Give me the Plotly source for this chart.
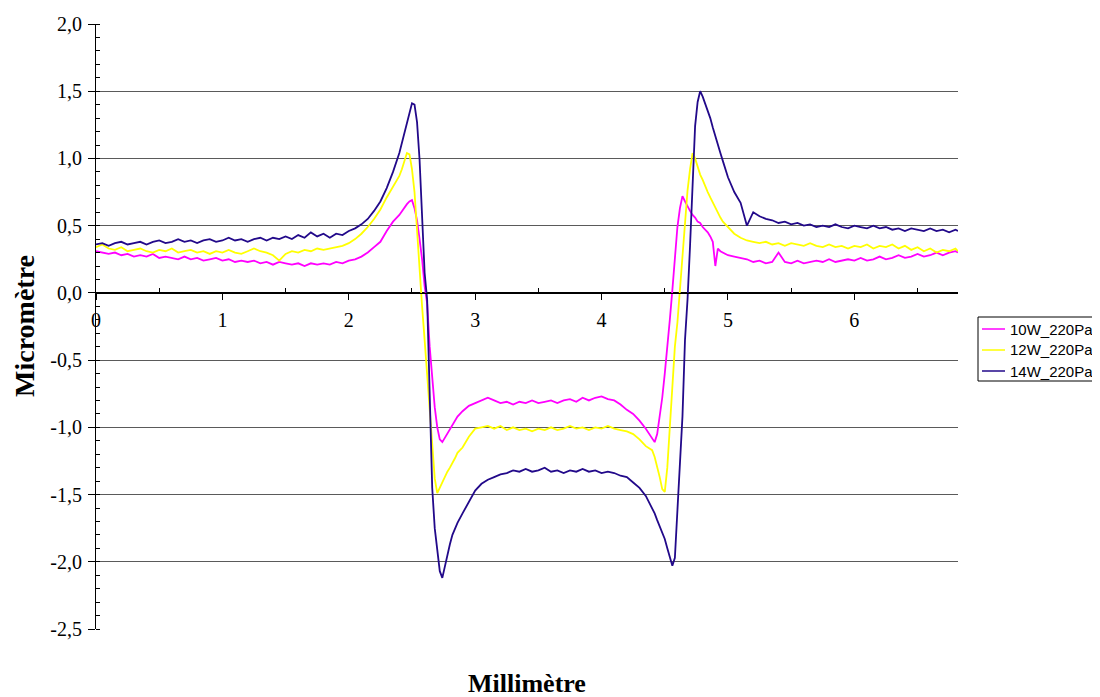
import numpy as np
import plotly.graph_objects as go

# sample positions (mm)
x_mm = np.round(np.concatenate([
    np.arange(0.00, 2.351, 0.05),
    np.arange(2.40, 2.861, 0.02),
    np.arange(2.90, 4.401, 0.05),
    np.arange(4.42, 4.961, 0.02),
    np.arange(5.00, 6.801, 0.05),
    [6.82],
]), 2)

series_names = ["10W_220Pa", "12W_220Pa", "14W_220Pa"]
series_colors = ["#FF00FF", "#FFFF00", "#22098A"]

y_10w = [
    # 0.00 - 2.35
    0.31, 0.30, 0.29, 0.30, 0.28, 0.29, 0.27, 0.28, 0.27, 0.29,
    0.26, 0.27, 0.26, 0.25, 0.27, 0.25, 0.26, 0.24, 0.25, 0.26,
    0.24, 0.25, 0.23, 0.24, 0.23, 0.24, 0.22, 0.23, 0.21, 0.23,
    0.22, 0.21, 0.22, 0.20, 0.22, 0.21, 0.22, 0.21, 0.23, 0.22,
    0.24, 0.25, 0.27, 0.30, 0.34, 0.38, 0.46, 0.53,
    # 2.40 - 2.86
    0.58, 0.61, 0.64, 0.66, 0.68, 0.69, 0.63, 0.54, 0.40, 0.25,
    0.05, -0.08, -0.40, -0.65, -0.85, -1.00, -1.09, -1.11, -1.08, -1.05,
    -1.02, -0.98, -0.95, -0.92,
    # 2.90 - 4.40
    -0.88, -0.84, -0.82, -0.80, -0.78, -0.80, -0.82, -0.81, -0.83, -0.81,
    -0.82, -0.80, -0.82, -0.81, -0.80, -0.82, -0.80, -0.79, -0.81, -0.78,
    -0.80, -0.78, -0.77, -0.79, -0.80, -0.83, -0.87, -0.90, -0.95, -1.01,
    -1.08,
    # 4.42 - 4.96
    -1.11, -1.05, -0.92, -0.78, -0.60, -0.42, -0.20, 0.02, 0.25, 0.49,
    0.63, 0.72, 0.68, 0.64, 0.61, 0.58, 0.56, 0.53, 0.52, 0.49,
    0.47, 0.45, 0.42, 0.38, 0.20, 0.33, 0.31, 0.30,
    # 5.00 - 6.82
    0.28, 0.27, 0.26, 0.25, 0.23, 0.24, 0.22, 0.23, 0.30, 0.23,
    0.22, 0.24, 0.22, 0.23, 0.24, 0.23, 0.25, 0.23, 0.24, 0.25,
    0.24, 0.26, 0.24, 0.25, 0.27, 0.25, 0.26, 0.28, 0.26, 0.27,
    0.29, 0.27, 0.28, 0.30, 0.28, 0.30, 0.31, 0.30,
]

y_12w = [
    # 0.00 - 2.35
    0.34, 0.36, 0.33, 0.32, 0.34, 0.31, 0.32, 0.33, 0.31, 0.30,
    0.32, 0.31, 0.33, 0.30, 0.31, 0.32, 0.30, 0.31, 0.29, 0.31,
    0.30, 0.32, 0.30, 0.29, 0.31, 0.33, 0.31, 0.30, 0.28, 0.24,
    0.29, 0.31, 0.30, 0.32, 0.31, 0.33, 0.32, 0.33, 0.34, 0.35,
    0.37, 0.40, 0.44, 0.49, 0.55, 0.62, 0.71, 0.79,
    # 2.40 - 2.86
    0.87, 0.92, 0.98, 1.04, 1.03, 0.92, 0.75, 0.45, 0.12, -0.10,
    -0.35, -0.62, -0.92, -1.18, -1.38, -1.49, -1.45, -1.40, -1.36, -1.33,
    -1.30, -1.27, -1.23, -1.19,
    # 2.90 - 4.40
    -1.15, -1.07, -1.01, -1.00, -0.99, -1.01, -0.99, -1.02, -1.00, -1.02,
    -1.01, -1.03, -1.01, -1.02, -1.00, -1.02, -1.01, -0.99, -1.01, -1.00,
    -1.02, -1.00, -1.01, -0.99, -1.01, -1.02, -1.03, -1.05, -1.09, -1.14,
    -1.17,
    # 4.42 - 4.96
    -1.22, -1.29, -1.37, -1.46, -1.48, -1.30, -1.00, -0.65, -0.40, -0.22,
    0.02, 0.30, 0.55, 0.76, 0.92, 1.04, 1.00, 0.94, 0.88, 0.84,
    0.79, 0.75, 0.71, 0.67, 0.63, 0.59, 0.56, 0.53,
    # 5.00 - 6.82
    0.49, 0.44, 0.41, 0.39, 0.38, 0.37, 0.38, 0.36, 0.37, 0.35,
    0.37, 0.36, 0.35, 0.37, 0.35, 0.34, 0.36, 0.34, 0.35, 0.33,
    0.35, 0.34, 0.36, 0.33, 0.35, 0.34, 0.36, 0.33, 0.35, 0.32,
    0.34, 0.31, 0.33, 0.30, 0.32, 0.31, 0.33, 0.31,
]

y_14w = [
    # 0.00 - 2.35
    0.36, 0.37, 0.35, 0.37, 0.38, 0.36, 0.37, 0.38, 0.36, 0.38,
    0.39, 0.37, 0.38, 0.40, 0.38, 0.39, 0.37, 0.39, 0.40, 0.38,
    0.39, 0.41, 0.39, 0.40, 0.38, 0.40, 0.41, 0.39, 0.41, 0.40,
    0.42, 0.40, 0.43, 0.41, 0.45, 0.42, 0.44, 0.41, 0.44, 0.43,
    0.46, 0.48, 0.51, 0.55, 0.61, 0.68, 0.78, 0.90,
    # 2.40 - 2.86
    1.04, 1.11, 1.19, 1.27, 1.34, 1.41, 1.40, 1.27, 0.99, 0.62,
    0.15, -0.05, -0.75, -1.45, -1.75, -1.93, -2.07, -2.12, -2.03, -1.96,
    -1.87, -1.80, -1.75, -1.71,
    # 2.90 - 4.40
    -1.64, -1.55, -1.47, -1.42, -1.39, -1.37, -1.35, -1.34, -1.32, -1.33,
    -1.31, -1.33, -1.32, -1.30, -1.33, -1.32, -1.34, -1.32, -1.33, -1.31,
    -1.33, -1.32, -1.34, -1.33, -1.34, -1.36, -1.37, -1.41, -1.45, -1.51,
    -1.60,
    # 4.42 - 4.96
    -1.64, -1.69, -1.74, -1.78, -1.83, -1.90, -1.96, -2.03, -1.97, -1.65,
    -1.30, -0.92, -0.35, -0.05, 0.35, 0.80, 1.24, 1.42, 1.50, 1.46,
    1.41, 1.36, 1.30, 1.23, 1.16, 1.10, 1.04, 0.98,
    # 5.00 - 6.82
    0.86, 0.75, 0.67, 0.50, 0.60, 0.57, 0.55, 0.54, 0.52, 0.53,
    0.51, 0.52, 0.50, 0.51, 0.49, 0.50, 0.49, 0.51, 0.49, 0.48,
    0.50, 0.49, 0.48, 0.50, 0.48, 0.49, 0.47, 0.48, 0.46, 0.48,
    0.47, 0.46, 0.48, 0.46, 0.47, 0.45, 0.47, 0.46,
]

y_ticks = [2.0, 1.5, 1.0, 0.5, 0.0, -0.5, -1.0, -1.5, -2.0, -2.5]
y_tick_labels = ["2,0", "1,5", "1,0", "0,5", "0,0", "-0,5", "-1,0", "-1,5", "-2,0", "-2,5"]
x_ticks = [0, 1, 2, 3, 4, 5, 6]
x_minor_ticks = [0.5, 1.5, 2.5, 3.5, 4.5, 5.5, 6.5]

assert len(x_mm) == len(y_10w) == len(y_12w) == len(y_14w)

fig = go.Figure()
for name, color, ys in zip(series_names, series_colors, [y_10w, y_12w, y_14w]):
    fig.add_trace(go.Scatter(x=x_mm, y=ys, mode="lines", name=name,
                             line=dict(color=color, width=1.8), showlegend=False))

serif = "Liberation Serif, Times New Roman, serif"
sans = "Liberation Sans, Arial, sans-serif"
y0_paper = (0 - (-2.5)) / (2.0 - (-2.5))

# page is shown with an 8 px body margin; plot area lands at x 96..958, y 24..629
ML, MR, MT, MB = 88, 150, 16, 76
PW = 1100 - ML - MR
PH = 697 - MT - MB


def px(sx):
    return (sx - 8 - ML) / PW


def py(sy):
    return (697 - MB - (sy - 8)) / PH


fig.update_layout(
    width=1100, height=697,
    margin=dict(l=ML, r=MR, t=MT, b=MB, autoexpand=False),
    paper_bgcolor="white", plot_bgcolor="white",
    showlegend=False,
    xaxis=dict(range=[0, 6.82], tickvals=x_ticks, ticktext=[str(v) for v in x_ticks],
               anchor="free", position=y0_paper,
               showline=True, linecolor="black", linewidth=1,
               ticks="outside", ticklen=6, tickcolor="black",
               ticklabelstandoff=3,
               minor=dict(tickvals=x_minor_ticks, ticks="inside", ticklen=5, tickcolor="black"),
               showgrid=False, zeroline=False,
               tickfont=dict(family=serif, size=20, color="black")),
    yaxis=dict(range=[-2.5, 2.0], tickvals=y_ticks, ticktext=y_tick_labels,
               showline=True, linecolor="black", linewidth=1,
               ticks="outside", ticklen=7, tickcolor="black",
               ticklabelstandoff=2,
               minor=dict(dtick=0.1, ticks="inside", ticklen=4, tickcolor="black", showgrid=False),
               showgrid=True, gridcolor="#5a5a5a", gridwidth=1,
               zeroline=True, zerolinecolor="black", zerolinewidth=1,
               tickfont=dict(family=serif, size=20, color="black")),
)

# axis titles
fig.add_annotation(text="<b>Millimètre</b>", xref="paper", yref="paper",
                   x=px(527), y=py(683), xanchor="center", yanchor="middle",
                   showarrow=False, font=dict(family=serif, size=26, color="black"))
fig.add_annotation(text="<b>Micromètre</b>", xref="paper", yref="paper",
                   x=px(24), y=py(326), xanchor="center", yanchor="middle", textangle=-90,
                   showarrow=False, font=dict(family=serif, size=28, color="black"))

# legend box
fig.add_shape(type="rect", xref="paper", yref="paper",
              x0=px(978), x1=px(1096), y0=py(381), y1=py(317),
              line=dict(color="black", width=1), fillcolor="white")
for i, (name, color) in enumerate(zip(series_names, series_colors)):
    sy = 329 + 21 * i
    fig.add_shape(type="line", xref="paper", yref="paper",
                  x0=px(982), x1=px(1005), y0=py(sy), y1=py(sy),
                  line=dict(color=color, width=1.5))
    fig.add_annotation(text=name, xref="paper", yref="paper",
                       x=px(1008), y=py(sy), xanchor="left", yanchor="middle",
                       showarrow=False, font=dict(family=sans, size=15, color="black"))

fig.write_html("out.html")
